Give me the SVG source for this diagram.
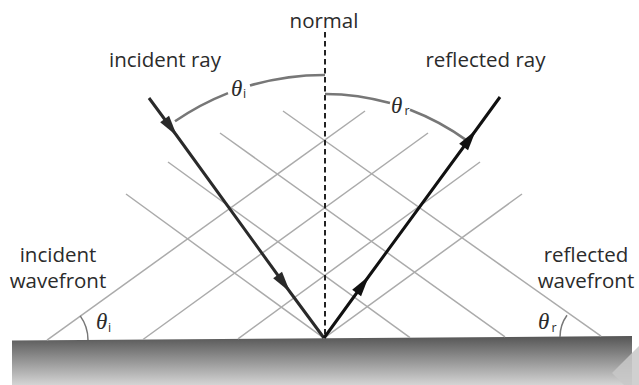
<svg xmlns="http://www.w3.org/2000/svg" width="639" height="385" viewBox="0 0 639 385">
  <style>
    .lbl { font-family: "Open Sans", "Liberation Sans", sans-serif; font-size: 20.5px; fill: #2b2b2b; text-anchor: middle; }
    .th { font-family: "Liberation Serif", serif; font-style: italic; font-size: 23px; fill: #2b2b2b; }
    .sub { font-family: "Open Sans", "Liberation Sans", sans-serif; font-size: 12.5px; fill: #2b2b2b; }
    .wf { stroke: #ababab; stroke-width: 1.5; fill: none; }
    .arc { stroke: #777777; stroke-width: 2.6; fill: none; }
    .arcs { stroke: #777777; stroke-width: 1.5; fill: none; }
    .ray { stroke-width: 3; fill: none; }
  </style>
  <defs>
    <linearGradient id="surf" x1="0" y1="0" x2="0" y2="1">
      <stop offset="0" stop-color="#555555"/>
      <stop offset="1" stop-color="#d4d4d4"/>
    </linearGradient>
    <marker id="ahI" markerUnits="userSpaceOnUse" markerWidth="24" markerHeight="14" viewBox="-22 -7 24 14" refX="0" refY="0" orient="auto">
      <path d="M0,0 L-21,-5.5 L-21,5.5 Z" fill="#2a2a2a"/>
    </marker>
    <marker id="ahR" markerUnits="userSpaceOnUse" markerWidth="24" markerHeight="14" viewBox="-22 -7 24 14" refX="0" refY="0" orient="auto">
      <path d="M0,0 L-21,-5.5 L-21,5.5 Z" fill="#111111"/>
    </marker>
  </defs>

  <g id="surface">
    <polygon points="12,340.5 632,336 632,385 12,385" fill="url(#surf)"/>
    <polygon points="612,373 639,346 639,385 624,385" fill="#c8c8c8" opacity="0.85"/>
  </g>

  <g id="wavefronts">
    <line class="wf" x1="47" y1="340.2" x2="365" y2="111"/>
    <line class="wf" x1="143" y1="339.5" x2="428" y2="133"/>
    <line class="wf" x1="238" y1="338.8" x2="480" y2="162"/>
    <line class="wf" x1="324" y1="338.2" x2="522" y2="194"/>
    <line class="wf" x1="283" y1="111" x2="601" y2="336.2"/>
    <line class="wf" x1="220" y1="133" x2="505" y2="336.9"/>
    <line class="wf" x1="168" y1="162" x2="410" y2="337.6"/>
    <line class="wf" x1="126" y1="194" x2="324" y2="338.2"/>
  </g>

  <g id="normal">
    <line x1="325" y1="32" x2="325" y2="338" stroke="#222" stroke-width="2" stroke-dasharray="5.5 3.5"/>
    <text class="lbl" x="324" y="28">normal</text>
  </g>

  <g id="angle-arcs">
    <path class="arc" d="M175,121.3 A263,263 0 0 1 228,93.1"/>
    <path class="arc" d="M250,85.6 A263,263 0 0 1 325,75"/>
    <path class="arc" d="M325,94 A244,244 0 0 1 390,103.1"/>
    <path class="arc" d="M410,109.7 A244,244 0 0 1 467,140.6"/>
    <path class="arcs" d="M88,340 A41,41 0 0 0 80.2,315.9"/>
    <path class="arcs" d="M560,337 A37,37 0 0 1 567,315.3"/>
  </g>

  <g id="connectors">
    <polyline class="ray" stroke="#2a2a2a" points="149,98 177,136 290,292 324,338" marker-mid="url(#ahI)"/>
    <polyline class="ray" stroke="#111111" points="324,338 369,276 476,130 500,97" marker-mid="url(#ahR)"/>
  </g>

  <g id="incident-ray-label"><text class="lbl" x="165" y="67">incident ray</text></g>
  <g id="reflected-ray-label"><text class="lbl" x="485.5" y="67">reflected ray</text></g>
  <g id="incident-wavefront-label">
    <text class="lbl" x="58" y="262">incident</text>
    <text class="lbl" x="58" y="288">wavefront</text>
  </g>
  <g id="reflected-wavefront-label">
    <text class="lbl" x="586" y="262">reflected</text>
    <text class="lbl" x="586" y="288">wavefront</text>
  </g>

  <g id="theta-i-top"><text class="th" x="231" y="96">θ</text><text class="sub" x="243" y="98">i</text></g>
  <g id="theta-r-top"><text class="th" x="391" y="113">θ</text><text class="sub" x="404.5" y="115">r</text></g>
  <g id="theta-i-bottom"><text class="th" x="96" y="329">θ</text><text class="sub" x="108" y="332">i</text></g>
  <g id="theta-r-bottom"><text class="th" x="538" y="329">θ</text><text class="sub" x="551.5" y="332">r</text></g>
</svg>
